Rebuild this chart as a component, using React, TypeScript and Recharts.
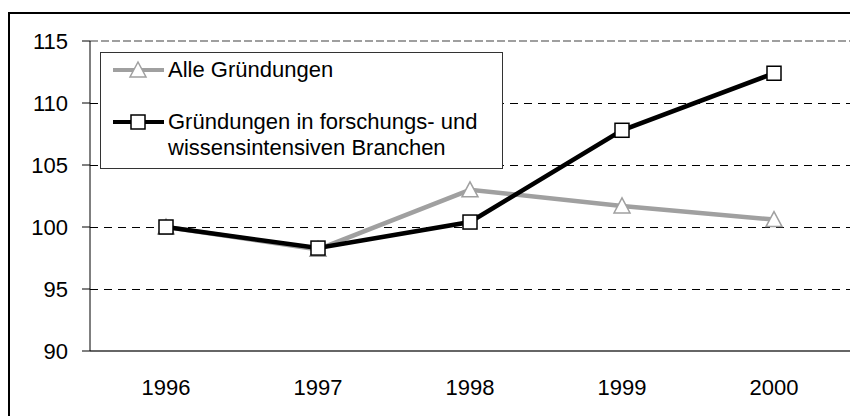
import React from "react";
import {
  LineChart,
  Line,
  XAxis,
  YAxis,
  CartesianGrid,
  ReferenceLine,
} from "recharts";

const years = ["1996", "1997", "1998", "1999", "2000"];
const alleGruendungen = [100, 98.2, 103.0, 101.7, 100.6];
const fuwGruendungen = [100, 98.3, 100.4, 107.8, 112.4];
const yTicks = [90, 95, 100, 105, 110, 115];

const GREY = "#a0a0a0";
const FONT = "'Liberation Sans', Arial, sans-serif";

const data = years.map((year, i) => ({
  year,
  alle: alleGruendungen[i],
  fuw: fuwGruendungen[i],
}));

function SquareDot(props: any) {
  const { cx, cy, index } = props;
  if (cx == null || cy == null) return null;
  return (
    <rect
      key={`sq-${index}`}
      x={cx - 7}
      y={cy - 7}
      width={14}
      height={14}
      fill="#fff"
      stroke="#000"
      strokeWidth={1.5}
    />
  );
}

function TriangleDot(props: any) {
  const { cx, cy, index } = props;
  if (cx == null || cy == null) return null;
  return (
    <polygon
      key={`tri-${index}`}
      points={`${cx},${cy - 8} ${cx + 8},${cy + 7} ${cx - 8},${cy + 7}`}
      fill="#fff"
      stroke={GREY}
      strokeWidth={1.5}
    />
  );
}

// legend box drawn over the plot, like the original
function LegendBox() {
  return (
    <div
      style={{
        position: "absolute",
        left: 100,
        top: 52,
        width: 403,
        height: 117,
        border: "1px solid #333",
        background: "#fff",
        fontFamily: FONT,
        fontSize: 22,
        color: "#000",
        boxSizing: "border-box",
      }}
    >
      <div style={{ position: "absolute", left: 11, top: 4, display: "flex", alignItems: "center" }}>
        <svg width={54} height={26}>
          <line x1={1} y1={13} x2={52} y2={13} stroke={GREY} strokeWidth={4} />
          <polygon points="26,5 34,20 18,20" fill="#fff" stroke={GREY} strokeWidth={1.5} />
        </svg>
        <span style={{ marginLeft: 2, lineHeight: "26px" }}>Alle Gründungen</span>
      </div>
      <div style={{ position: "absolute", left: 11, top: 56, display: "flex", alignItems: "flex-start" }}>
        <svg width={54} height={26}>
          <line x1={1} y1={13} x2={52} y2={13} stroke="#000" strokeWidth={4} />
          <rect x={19} y={6} width={14} height={14} fill="#fff" stroke="#000" strokeWidth={1.5} />
        </svg>
        <span style={{ marginLeft: 2, lineHeight: "26px" }}>
          Gründungen in forschungs- und
          <br />
          wissensintensiven Branchen
        </span>
      </div>
    </div>
  );
}

export default function App() {
  return (
    <div style={{ position: "absolute", left: 0, top: 0, width: 850, height: 416, overflow: "hidden", background: "#fff" }}>
      <div
        style={{
          position: "absolute",
          left: 8,
          top: 12,
          width: 880,
          height: 440,
          borderLeft: "2px solid #000",
          borderTop: "2px solid #000",
        }}
      />
      <div style={{ position: "absolute", left: 0, top: 0 }}>
        <LineChart
          width={850}
          height={416}
          data={data}
          margin={{ top: 41, right: 0, bottom: 25, left: 10 }}
        >
          <CartesianGrid
            vertical={false}
            stroke="#000"
            strokeWidth={1}
            strokeDasharray="8 6"
            shapeRendering="crispEdges"
            horizontalValues={[95, 100, 105, 110]}
          />
          <ReferenceLine
            y={115}
            stroke="#808080"
            strokeDasharray="8 3"
            strokeWidth={1.5}
          />
          <XAxis
            dataKey="year"
            padding={{ left: 76, right: 76 }}
            axisLine={{ stroke: "#333", strokeWidth: 1.5 }}
            tickLine={false}
            tickSize={0}
            tickMargin={28}
            height={40}
            tick={{ fill: "#000", fontSize: 22, fontFamily: FONT }}
          />
          <YAxis
            domain={[90, 115]}
            ticks={yTicks}
            width={80}
            axisLine={{ stroke: "#000" }}
            tickLine={{ stroke: "#000" }}
            tickSize={8}
            tickMargin={14}
            tick={{ fill: "#000", fontSize: 22, fontFamily: FONT }}
            allowDataOverflow
          />
          <Line
            dataKey="alle"
            name="Alle Gründungen"
            stroke={GREY}
            strokeWidth={4.5}
            dot={<TriangleDot />}
            activeDot={false}
            isAnimationActive={false}
          />
          <Line
            dataKey="fuw"
            name="Gründungen in forschungs- und wissensintensiven Branchen"
            stroke="#000"
            strokeWidth={4.5}
            dot={<SquareDot />}
            activeDot={false}
            isAnimationActive={false}
          />
        </LineChart>
      </div>
      <LegendBox />
    </div>
  );
}
